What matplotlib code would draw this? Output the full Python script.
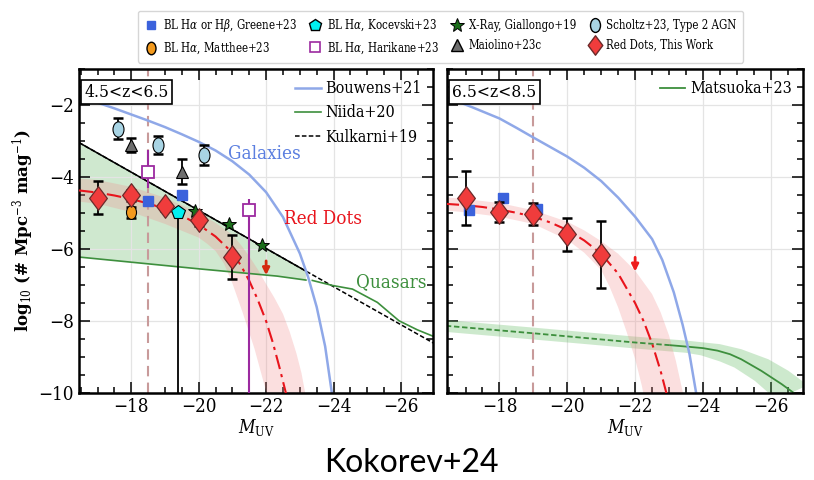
import numpy as np
import matplotlib
matplotlib.use('Agg')
import matplotlib.pyplot as plt
from matplotlib.lines import Line2D
from matplotlib.path import Path
from matplotlib.transforms import Affine2D
from matplotlib.ticker import MultipleLocator
from matplotlib.font_manager import FontProperties

plt.rcParams['font.family'] = ['DejaVu Serif']
plt.rcParams['font.stretch'] = 'condensed'
plt.rcParams['mathtext.fontset'] = 'dejavuserif'

# ---------------- data ----------------
# left panel, 4.5<z<6.5
bouw1_M = [-16.45, -17.0, -17.5, -18.0, -18.5, -19.0, -19.5, -20.0, -20.5, -21.0, -21.5, -22.0, -22.5,
           -23.0, -23.25, -23.5, -23.75, -23.95, -24.0]
bouw1_y = [-1.74, -1.93, -2.09, -2.26, -2.43, -2.61, -2.81, -3.02, -3.26, -3.56, -3.93, -4.42, -5.11,
           -6.12, -6.79, -7.61, -8.70, -10.0, -10.3]

niida_M = [-16.45, -20.03, -22.33, -23.18]
niida_y = [-6.22, -6.55, -6.75, -6.86]
quasar_M = [-23.37, -23.97, -24.56, -25.30, -25.94, -26.48, -26.95]
quasar_y = [-6.87, -7.01, -7.11, -7.48, -7.99, -8.24, -8.42]
kulk_M = [-16.45, -23.18, -27.0]
kulk_y = [-3.04, -6.61, -8.63]

rd1_curve_M = [-16.45, -17.0, -17.5, -18.0, -18.5, -19.0, -19.5, -20.0, -20.5, -21.0, -21.25, -21.5,
               -21.75, -22.0, -22.2, -22.4, -22.6]
rd1_curve_y = [-4.37, -4.43, -4.51, -4.61, -4.73, -4.88, -5.07, -5.32, -5.65, -6.10, -6.45, -6.88,
               -7.40, -8.00, -8.60, -9.30, -10.05]
rd1_hi_M = [-16.45, -17.0, -18.0, -19.0, -20.0, -20.5, -21.0, -21.25, -21.5, -21.75, -22.0, -22.25,
            -22.5, -22.7, -22.9, -23.05, -23.15, -23.2]
rd1_hi_y = [-4.04, -4.08, -4.27, -4.57, -5.00, -5.27, -5.60, -5.88, -6.20, -6.56, -6.97, -7.36,
            -7.80, -8.30, -8.90, -9.45, -9.95, -10.3]
rd1_lo_M = [-16.45, -17.0, -18.0, -19.0, -20.0, -20.25, -20.5, -20.75, -21.0, -21.3, -21.65, -22.0, -22.1]
rd1_lo_y = [-4.68, -4.74, -4.97, -5.30, -5.68, -5.85, -6.05, -6.40, -6.95, -7.75, -8.75, -9.95, -10.3]

rd1_M = [-17.0, -18.0, -19.0, -20.0, -21.0]
rd1_y = [-4.57, -4.51, -4.81, -5.20, -6.22]
rd1_err = [0.45, 0.14, 0.12, 0.15, 0.61]
rd1_lim = (-22.0, -6.25)

greene1_M = [-18.5, -19.5]
greene1_y = [-4.65, -4.51]
matthee_M = [-18.0]
matthee_y = [-4.98]
matthee_err = [0.15]
kocevski_M = [-19.4]
kocevski_y = [-4.97]
kocevski_elo = [6.0]
kocevski_ehi = [0.1]
harikane_M = [-18.5, -21.5]
harikane_y = [-3.86, -4.92]
harikane_elo = [0.45, 6.0]
harikane_ehi = [0.60, 0.30]
giallongo_M = [-19.88, -20.90, -21.87]
giallongo_y = [-4.95, -5.30, -5.88]
maiolino_M = [-18.0, -19.5]
maiolino_y = [-3.10, -3.85]
maiolino_err = [0.20, 0.35]
scholtz_M = [-17.6, -18.8, -20.15]
scholtz_y = [-2.65, -3.11, -3.39]
scholtz_err = [0.28, 0.25, 0.28]

# right panel, 6.5<z<8.5
bouw2_M = [-16.42, -17.2, -18.0, -18.5, -19.0, -20.0, -20.5, -21.0, -21.5, -22.0, -22.5, -22.8,
           -23.14, -23.4, -23.6, -23.8, -23.85]
bouw2_y = [-1.77, -2.06, -2.37, -2.63, -2.90, -3.43, -3.74, -4.11, -4.57, -5.10, -5.72, -6.30,
           -7.20, -8.10, -8.90, -10.0, -10.3]

rd2_curve_M = [-16.38, -17.0, -17.5, -18.0, -18.5, -19.0, -19.5, -20.0, -20.5, -21.0, -21.5, -22.0,
               -22.25, -22.5, -22.75, -22.95]
rd2_curve_y = [-4.74, -4.78, -4.83, -4.90, -4.99, -5.10, -5.26, -5.47, -5.76, -6.13, -6.68, -7.50,
               -8.00, -8.62, -9.38, -10.1]
rd2_hi_M = [-16.38, -17.0, -18.0, -19.0, -20.0, -20.5, -21.0, -21.5, -22.0, -22.5, -22.75, -23.0,
            -23.2, -23.4, -23.5]
rd2_hi_y = [-4.56, -4.61, -4.72, -4.92, -5.24, -5.48, -5.78, -6.13, -6.60, -7.25, -7.75, -8.40,
            -9.10, -9.95, -10.4]
rd2_lo_M = [-16.38, -17.0, -18.0, -19.0, -20.0, -20.5, -21.0, -21.25, -21.5, -21.75, -22.0, -22.2, -22.3]
rd2_lo_y = [-4.92, -4.98, -5.10, -5.30, -5.74, -6.10, -6.58, -7.05, -7.62, -8.30, -9.05, -9.80, -10.3]

rd2_M = [-17.0, -18.0, -19.0, -20.0, -21.0]
rd2_y = [-4.57, -4.97, -5.02, -5.59, -6.15]
rd2_err = [0.75, 0.28, 0.30, 0.45, 0.92]
rd2_lim = (-22.0, -6.15)

greene2_M = [-17.1, -18.1, -19.1]
greene2_y = [-4.91, -4.58, -4.88]

mats_dash_M = [-16.42, -19.03, -21.95, -23.05]
mats_dash_y = [-8.13, -8.34, -8.59, -8.67]
mats_M = [-23.05, -23.54, -24.0, -24.43, -24.8, -25.13, -25.72, -26.32, -26.67, -27.1]
mats_y = [-8.67, -8.71, -8.75, -8.82, -8.92, -9.06, -9.38, -9.75, -9.99, -10.3]
mats_hi_M = [-16.42, -19.0, -22.0, -23.5, -24.5, -25.13, -25.93, -26.52, -26.92, -27.1]
mats_hi_y = [-7.97, -8.18, -8.43, -8.54, -8.64, -8.78, -9.06, -9.38, -9.66, -9.78]
mats_lo_M = [-16.42, -19.0, -22.0, -23.5, -23.94, -24.5, -24.93, -25.53, -25.93, -26.1]
mats_lo_y = [-8.30, -8.51, -8.76, -8.88, -8.95, -9.12, -9.29, -9.66, -9.99, -10.2]

xtick_vals = [-18, -20, -22, -24, -26]
ytick_vals = [-2, -4, -6, -8, -10]

# ---------------- style ----------------
c_bouw = '#8fa8e8'
c_green = '#3d8f3d'
c_gfill = '#cfe8cf'
c_red = '#e8141c'
c_band = '#f28c8c'
c_vline = '#c89a9a'
c_greene = '#3b62dc'
c_purple = '#9c2aa0'

ell = Path.unit_circle().transformed(Affine2D().scale(0.72, 1.0))
diam = Path([(0, 1), (0.75, 0), (0, -1), (-0.75, 0), (0, 1)],
            [Path.MOVETO, Path.LINETO, Path.LINETO, Path.LINETO, Path.CLOSEPOLY])

fig = plt.figure(figsize=(8.14, 4.8), dpi=100)
ax1 = fig.add_axes([0.097, 0.181, 0.435, 0.675])
ax2 = fig.add_axes([0.549, 0.181, 0.4375, 0.675])

ebar = dict(ecolor='k', elinewidth=1.3, capsize=3.5, capthick=1.8, ls='none')


def band(ax, hM, hy, lM, ly, color, alpha):
    xs = list(hM) + list(lM)[::-1]
    ys = list(hy) + list(ly)[::-1]
    ax.fill(xs, ys, color=color, alpha=alpha, lw=0, zorder=1)


# ---- left panel ----
ax = ax1
ax.fill(kulk_M[:2] + niida_M[::-1], kulk_y[:2] + niida_y[::-1], color=c_gfill, lw=0, zorder=0.5)
ax.plot(kulk_M, kulk_y, color='k', ls=(0, (3, 1.5)), lw=1.1, zorder=2)
ax.plot(kulk_M[:2], kulk_y[:2], color='k', lw=1.1, zorder=2)
ax.plot(niida_M, niida_y, color=c_green, lw=1.2, zorder=2)
ax.plot(quasar_M, quasar_y, color=c_green, lw=1.2, zorder=2)
ax.plot(bouw1_M, bouw1_y, color=c_bouw, lw=1.8, zorder=2)
band(ax, rd1_hi_M, rd1_hi_y, rd1_lo_M, rd1_lo_y, c_band, 0.28)
ax.plot(rd1_curve_M, rd1_curve_y, color=c_red, lw=1.5, ls=(0, (7, 2.5, 1.5, 2.5)), zorder=3)
ax.axvline(-18.5, color=c_vline, lw=1.5, ls=(0, (5, 3)), zorder=1.5)

ax.errorbar(scholtz_M, scholtz_y, yerr=scholtz_err, **ebar, zorder=4)
ax.plot(scholtz_M, scholtz_y, ls='none', marker=ell, ms=11, mfc='#a8d4e4', mec='k', mew=0.8, zorder=5)
ax.errorbar(maiolino_M, maiolino_y, yerr=maiolino_err, **ebar, zorder=4)
ax.plot(maiolino_M, maiolino_y, ls='none', marker='^', ms=9, mfc='#6e6e6e', mec='k', mew=0.8, zorder=5)
ax.errorbar(harikane_M, harikane_y, yerr=[harikane_elo, harikane_ehi], fmt='s', ms=8, mfc='white',
            mec=c_purple, mew=1.3, ecolor=c_purple, elinewidth=1.5, capsize=0, zorder=4)
ax.plot(greene1_M, greene1_y, ls='none', marker='s', ms=6.5, color=c_greene, zorder=5)
ax.errorbar(kocevski_M, kocevski_y, yerr=[kocevski_elo, kocevski_ehi], ecolor='k', elinewidth=1.3,
            capsize=0, ls='none', zorder=4)
ax.plot(kocevski_M, kocevski_y, ls='none', marker='p', ms=10.5, mfc='#00f0f0', mec='k', mew=0.8, zorder=5)
ax.errorbar(matthee_M, matthee_y, yerr=matthee_err, **ebar, zorder=4)
ax.plot(matthee_M, matthee_y, ls='none', marker=ell, ms=10, mfc='#f39a1e', mec='k', mew=0.8, zorder=5)
ax.plot(giallongo_M, giallongo_y, ls='none', marker='*', ms=10, mfc='#1b6e1b', mec='k', mew=0.7, zorder=5)
ax.errorbar(rd1_M, rd1_y, yerr=rd1_err, **ebar, zorder=6)
ax.plot(rd1_M, rd1_y, ls='none', marker=diam, ms=17, mfc='#f03c3c', mec='#6a2a2a', mew=0.9, zorder=7)
ax.annotate('', xy=(rd1_lim[0], rd1_lim[1] - 0.55), xytext=rd1_lim,
            arrowprops=dict(arrowstyle='-|>', color='#d42a10', lw=2, mutation_scale=10), zorder=6)

ax.text(-21.95, -3.35, 'Galaxies', color='#5b7fe0', fontsize=13.5, ha='center', va='center')
ax.text(-23.69, -5.16, 'Red Dots', color='#e8141c', fontsize=13.5, ha='center', va='center')
ax.text(-25.71, -6.92, 'Quasars', color=c_green, fontsize=13.5, ha='center', va='center')
ax.text(0.015, 0.955, '4.5<z<6.5', transform=ax.transAxes, fontsize=12.5, va='top', ha='left',
        bbox=dict(boxstyle='square,pad=0.2', fc='white', ec='k', lw=1.2), zorder=10)
h1 = [Line2D([], [], color=c_bouw, lw=1.8, label='Bouwens+21'),
      Line2D([], [], color=c_green, lw=1.2, label='Niida+20'),
      Line2D([], [], color='k', lw=1.1, ls=(0, (3, 1.5)), label='Kulkarni+19')]
ax.legend(handles=h1, loc='upper right', frameon=False, fontsize=11.5, handlelength=1.6,
          borderaxespad=0.3, labelspacing=0.45, handletextpad=0.3)

# ---- right panel ----
ax = ax2
band(ax, mats_hi_M, mats_hi_y, mats_lo_M, mats_lo_y, '#5cb85c', 0.3)
ax.plot(mats_dash_M, mats_dash_y, color=c_green, lw=1.3, ls=(0, (3, 1.5)), zorder=2)
ax.plot(mats_M, mats_y, color=c_green, lw=1.3, zorder=2)
ax.plot(bouw2_M, bouw2_y, color=c_bouw, lw=1.8, zorder=2)
band(ax, rd2_hi_M, rd2_hi_y, rd2_lo_M, rd2_lo_y, c_band, 0.28)
ax.plot(rd2_curve_M, rd2_curve_y, color=c_red, lw=1.5, ls=(0, (7, 2.5, 1.5, 2.5)), zorder=3)
ax.axvline(-19.0, color=c_vline, lw=1.5, ls=(0, (5, 3)), zorder=1.5)
ax.plot(greene2_M, greene2_y, ls='none', marker='s', ms=6.5, color=c_greene, zorder=5)
ax.errorbar(rd2_M, rd2_y, yerr=rd2_err, **ebar, zorder=6)
ax.plot(rd2_M, rd2_y, ls='none', marker=diam, ms=17, mfc='#f03c3c', mec='#6a2a2a', mew=0.9, zorder=7)
ax.annotate('', xy=(rd2_lim[0], rd2_lim[1] - 0.55), xytext=rd2_lim,
            arrowprops=dict(arrowstyle='-|>', color='#ee1c1c', lw=2, mutation_scale=10), zorder=6)
ax.text(0.015, 0.955, '6.5<z<8.5', transform=ax.transAxes, fontsize=12.5, va='top', ha='left',
        bbox=dict(boxstyle='square,pad=0.2', fc='white', ec='k', lw=1.2), zorder=10)
ax.legend(handles=[Line2D([], [], color=c_green, lw=1.3, label='Matsuoka+23')], loc='upper right',
          frameon=False, fontsize=11.5, handlelength=1.6, borderaxespad=0.3, handletextpad=0.3)

for ax in (ax1, ax2):
    ax.set_xlim(-16.45, -26.95)
    ax.set_ylim(-10, -1)
    ax.set_xticks(xtick_vals)
    ax.set_yticks(ytick_vals)
    ax.xaxis.set_minor_locator(MultipleLocator(0.5))
    ax.yaxis.set_minor_locator(MultipleLocator(0.5))
    ax.tick_params(which='both', direction='in', top=True, right=True, labelsize=13.5, width=1.1)
    ax.tick_params(which='major', length=8)
    ax.tick_params(which='minor', length=4.5)
    ax.grid(True, which='major', color='#e4e4e4', lw=0.9, zorder=0)
    ax.set_axisbelow(True)
    for s in ax.spines.values():
        s.set_linewidth(1.8)
    ax.set_xlabel(r'$M_{\rm UV}$', fontsize=13, labelpad=1)
ax2.tick_params(labelleft=False)
ax1.set_ylabel(r'log$_{10}$ (# Mpc$^{-3}$ mag$^{-1}$)', fontsize=12, fontweight='bold',
               fontstretch='normal', labelpad=2)

# ---- top legend ----
hs = [Line2D([], [], ls='none', marker='s', ms=6, color=c_greene, label=r'BL H$\alpha$ or H$\beta$, Greene+23'),
      Line2D([], [], ls='none', marker=ell, ms=9, mfc='#f39a1e', mec='k', label=r'BL H$\alpha$, Matthee+23'),
      Line2D([], [], ls='none', marker='p', ms=9, mfc='#00f0f0', mec='k', label=r'BL H$\alpha$, Kocevski+23'),
      Line2D([], [], ls='none', marker='s', ms=7, mfc='white', mec=c_purple, mew=1.2, label=r'BL H$\alpha$, Harikane+23'),
      Line2D([], [], ls='none', marker='*', ms=10, mfc='#1b6e1b', mec='k', mew=0.7, label='X-Ray, Giallongo+19'),
      Line2D([], [], ls='none', marker='^', ms=9, mfc='#6e6e6e', mec='k', label='Maiolino+23c'),
      Line2D([], [], ls='none', marker=ell, ms=10, mfc='#a8d4e4', mec='k', label='Scholtz+23, Type 2 AGN'),
      Line2D([], [], ls='none', marker=diam, ms=14, mfc='#f03c3c', mec='#6a2a2a', label='Red Dots, This Work')]
leg_font = FontProperties(family='DejaVu Serif', stretch='condensed', size=8.3)
fig.legend(handles=hs, ncol=4, loc='upper center', bbox_to_anchor=(0.541, 0.99), prop=leg_font,
           frameon=True, edgecolor='#cccccc', columnspacing=1.0, handlelength=1.2, handletextpad=0.4,
           borderpad=0.55, labelspacing=0.6)

fig.text(0.505, 0.035, 'Kokorev+24', ha='center', va='center', fontsize=23,
         family=['Lato', 'DejaVu Sans'], fontstretch='normal')

fig.savefig('out.png', dpi=100)
